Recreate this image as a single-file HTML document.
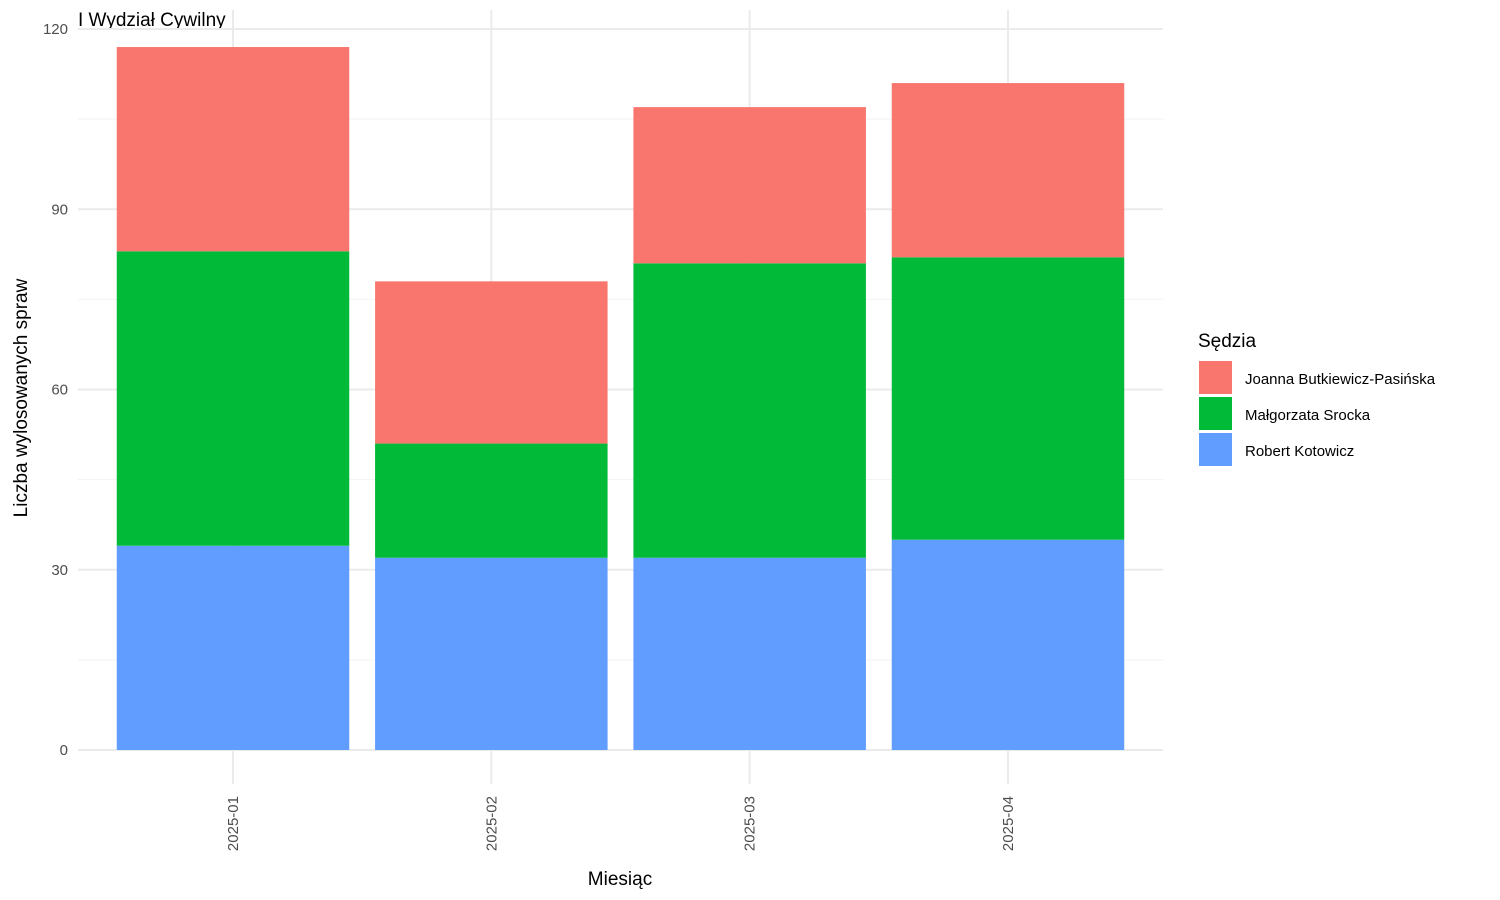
<!DOCTYPE html>
<html><head><meta charset="utf-8">
<style>
html,body{margin:0;padding:0;background:#fff;}
svg{display:block;font-family:"Liberation Sans",sans-serif;}
</style></head>
<body>
<svg id="chart" width="1500" height="900" viewBox="0 0 1500 900" xmlns="http://www.w3.org/2000/svg">
<text x="78" y="26" font-size="19" fill="#000">I Wydział Cywilny</text>
<g id="grid"></g>
<g id="bars"></g>
<g id="axes"></g>
<text x="620" y="885" font-size="19" text-anchor="middle" fill="#000">Miesiąc</text>
<text transform="translate(27,398) rotate(-90)" font-size="19" text-anchor="middle" fill="#000">Liczba wylosowanych spraw</text>
<g>
<text x="1198" y="347" font-size="19" fill="#000">Sędzia</text>
<g id="legend-items"></g>
</g>
</svg>
<script>
const categories = ["2025-01","2025-02","2025-03","2025-04"];
const seriesNames = ["Robert Kotowicz","Małgorzata Srocka","Joanna Butkiewicz-Pasińska"];
const robert = [34,32,32,35];
const malgorzata = [49,19,49,47];
const joanna = [34,27,26,29];
const yTicks = [0,30,60,90,120];
const yMinor = [15,45,75,105];

const colors = ["#619CFF","#00BA38","#F8766D"];
const series = [robert, malgorzata, joanna];
const NS = "http://www.w3.org/2000/svg";
const panel = {left:78, right:1163, top:10, bottom:784};
const y = v => 750 - v * (721/120);
const step = 258.33;
const x = i => 233 + i * step;
const bw = step * 0.9;

function mk(tag, attrs, parent){
  const e = document.createElementNS(NS, tag);
  for (const k in attrs) e.setAttribute(k, attrs[k]);
  parent.appendChild(e);
  return e;
}
const grid = document.getElementById('grid');
yMinor.forEach(v=>{
  const l = mk('line',{x1:panel.left,x2:panel.right,y1:y(v),y2:y(v),stroke:'#f2f2f2','stroke-width':1},grid);
  
  
});
yTicks.forEach(v=>{
  const l = mk('line',{x1:panel.left,x2:panel.right,y1:y(v),y2:y(v),stroke:'#ebebeb','stroke-width':2},grid);
  
  
});
categories.forEach((c,i)=>{
  const l = mk('line',{x1:x(i),x2:x(i),y1:panel.top,y2:panel.bottom,stroke:'#ebebeb','stroke-width':2},grid);
  
  
});
const bars = document.getElementById('bars');
categories.forEach((c,i)=>{
  let base = 0;
  series.forEach((s,k)=>{
    const top = base + s[i];
    const r = mk('rect',{x:x(i)-bw/2,y:y(top),width:bw,height:y(base)-y(top),fill:colors[k]},bars);
    
    
    base = top;
  });
});
const axes = document.getElementById('axes');
yTicks.forEach(v=>{
  const t = mk('text',{x:68,y:y(v)+5,'font-size':15,'text-anchor':'end',fill:'#4d4d4d'},axes);
  t.textContent = v;
  
  
});
categories.forEach((c,i)=>{
  const t = mk('text',{transform:'translate('+(x(i)+5)+',796) rotate(-90)','font-size':15,'text-anchor':'end',fill:'#4d4d4d'},axes);
  t.textContent = c;
  
  
});
const leg = document.getElementById('legend-items');
const legOrder = [2,1,0];
legOrder.forEach((k,j)=>{
  const r = mk('rect',{x:1199,y:361+j*36,width:33,height:33,fill:colors[k]},leg);
  
  
  const t = mk('text',{x:1245,y:384+j*36,'font-size':15,fill:'#000'},leg);
  t.textContent = seriesNames[k];
  
  
});
</script>
</body></html>
